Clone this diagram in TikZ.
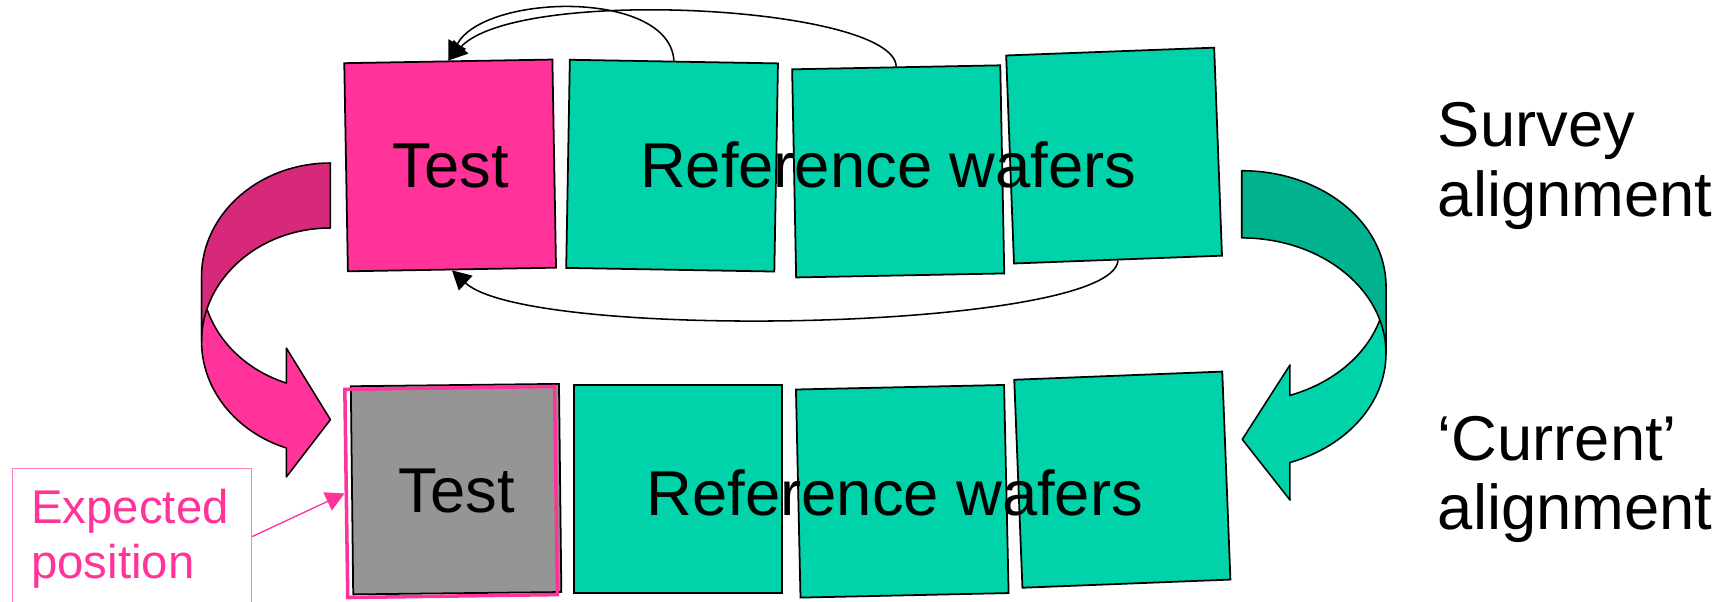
\documentclass[tikz,border=0pt]{standalone}
\usepackage{fontspec}
\setmainfont{Liberation Sans}
\usetikzlibrary{arrows.meta}

\definecolor{wpink}{HTML}{FF3399}
\definecolor{wpinkdark}{HTML}{D6297A}
\definecolor{wteal}{HTML}{00D2AA}
\definecolor{wtealdark}{HTML}{00B38E}
\definecolor{wgray}{HTML}{959595}
\definecolor{wlabel}{HTML}{FF80BF}

% two stacked lines whose baseline is the first line's baseline
\newcommand{\twoline}[2]{\vtop{\hbox{#1}\hbox{#2}}}

\begin{document}
\begin{tikzpicture}[x=0.5pt, y=-0.5pt,
  wafer/.style={draw=black, line width=0.8pt, inner sep=0pt,
    minimum width=94.5pt, minimum height=94.5pt},
  testwafer/.style={wafer, fill=wpink},
  refwafer/.style={wafer, fill=wteal},
  graywafer/.style={wafer, fill=wgray},
  expectbox/.style={draw=wpink, line width=1.6pt, inner sep=0pt,
    minimum width=95.2pt, minimum height=94.5pt},
  bigtext/.style={inner sep=0pt, font=\fontsize{28.75}{31.75}\selectfont},
  labeltext/.style={inner sep=0pt, text=wpink, font=\fontsize{21.5}{24.85}\selectfont},
  labelbox/.style={draw=wlabel, line width=0.6pt, inner sep=0pt,
    minimum width=108.5pt, minimum height=62pt},
  survey/.style={draw=black, line width=0.7pt, -{Triangle[length=8.5pt, width=9pt]}},
  pointer/.style={draw=wpink, line width=0.6pt, -{Triangle[length=8.5pt, width=9pt]}},
  bandedge/.style={draw=black, line width=0.7pt, line join=round},
]
\useasboundingbox (0,0) rectangle (1568,546);
\fill[white] (0,0) rectangle (1568,546);
\clip (0,0) rectangle (1568,546);

% left curved arrow: front (with head), then the back of the band on top
\path[bandedge, fill=wpink] (183,251)
  arc[start angle=180, end angle=250, x radius=58.5pt, y radius=51.5pt]
  -- (260,316) -- (300,381) -- (260,433) -- (260,406.79)
  arc[start angle=250, end angle=180, x radius=58.5pt, y radius=51.5pt] -- cycle;
\path[bandedge, fill=wpinkdark] (300,148)
  arc[start angle=90, end angle=180, x radius=58.5pt, y radius=51.5pt]
  -- (183,310)
  arc[start angle=180, end angle=90, x radius=58.5pt, y radius=51.5pt] -- cycle;

% right curved arrow
\path[bandedge, fill=wteal] (1258.4,260)
  arc[start angle=0, end angle=-70.5, x radius=65.5pt, y radius=52.5pt]
  -- (1171.2,331.4) -- (1127.9,398.9) -- (1171.2,454) -- (1171.1,419.97)
  arc[start angle=-70.5, end angle=0, x radius=65.5pt, y radius=52.5pt] -- cycle;
\path[bandedge, fill=wtealdark] (1127.4,155)
  arc[start angle=90, end angle=0, x radius=65.5pt, y radius=52.5pt]
  -- (1258.4,321)
  arc[start angle=0, end angle=90, x radius=65.5pt, y radius=52.5pt] -- cycle;

% upper row of wafers
\node[testwafer, rotate=1.0]  (testtop) at (408.7,150.2) {};
\node[refwafer, rotate=-1.0]  (ref1top) at (610.2,150.4) {};
\node[refwafer, rotate=1.1]   (ref2top) at (815.5,155.6) {};
\node[refwafer, rotate=2.15]  (ref3top) at (1011.5,141.25) {};

% lower row of wafers
\node[graywafer, rotate=0.65] (testbot) at (414.1,444.1) {};
\node[expectbox, rotate=0.8]  (expectedpos) at (409.6,446.7) {};
\node[refwafer]               (ref1bot) at (615.75,444.2) {};
\node[refwafer, rotate=1.25]  (ref2bot) at (819.2,446.05) {};
\node[refwafer, rotate=2.25]  (ref3bot) at (1019,435.5) {};

% labels
\node[bigtext, anchor=base] (testtoplabel) at (409,170) {Test};
\node[bigtext, anchor=base] (reftoplabel) at (806.5,170) {Reference wafers};
\node[bigtext, anchor=base] (testbotlabel) at (414.5,465) {Test};
\node[bigtext, anchor=base] (refbotlabel) at (812.5,468) {Reference wafers};
\node[bigtext, anchor=base west] (surveylabel) at (1305,133.2) {\twoline{Survey}{alignment}};
\node[bigtext, anchor=base west] (currentlabel) at (1305,417.7) {\twoline{‘Current’}{alignment}};

% callout for the expected position
\node[labelbox, anchor=north west] (expected) at (10.7,424.6) {};
\node[labeltext, anchor=base west] (expectedlabel) at (28,475.2) {\twoline{Expected}{position}};
\draw[pointer] (expected.east) -- (expectedpos.west);

% survey measurements of the reference wafers
\draw[survey] (ref1top.north) .. controls +(-4,-65) and +(33,-61) .. (testtop.north);
\draw[survey] (ref2top.north) .. controls +(-2,-55) and +(63,-68) .. (testtop.north);
\draw[survey] (ref3top.south) .. controls +(-5,64) and +(70,65) .. (testtop.south);
\end{tikzpicture}
\end{document}
